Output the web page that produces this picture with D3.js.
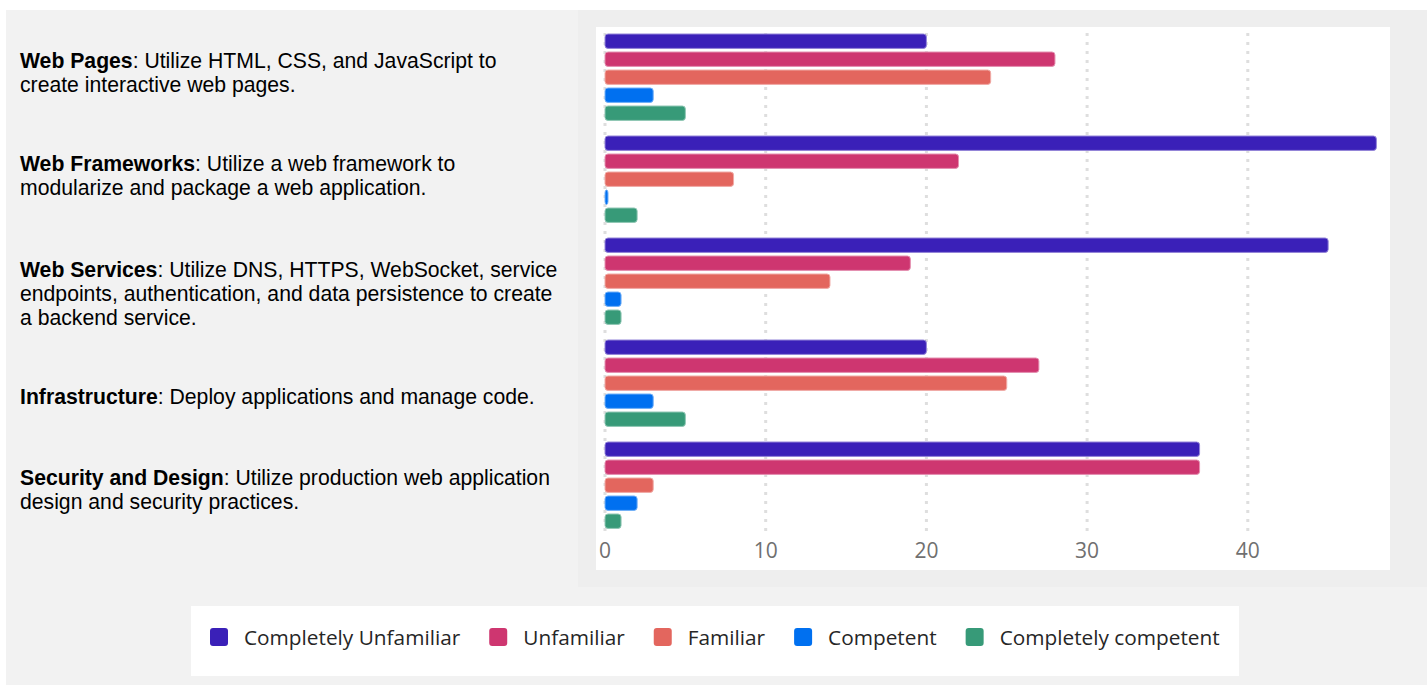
<!DOCTYPE html>
<html>
<head>
<meta charset="utf-8">
<script src="https://cdn.jsdelivr.net/npm/d3@7"></script>
<style>
    body { margin: 0; background: #fff; }
    svg { display: block; }
</style>
</head>
<body>
<svg width="1427" height="685"></svg>
<script>
let categories = ["Web Pages", "Web Frameworks", "Web Services", "Infrastructure", "Security and Design"];
let descriptions = [
    ["Utilize HTML, CSS, and JavaScript to", "create interactive web pages."],
    ["Utilize a web framework to", "modularize and package a web application."],
    ["Utilize DNS, HTTPS, WebSocket, service", "endpoints, authentication, and data persistence to create", "a backend service."],
    ["Deploy applications and manage code."],
    ["Utilize production web application", "design and security practices."]
];
let seriesNames = ["Completely Unfamiliar", "Unfamiliar", "Familiar", "Competent", "Completely competent"];
let seriesColors = ["#3a20b8", "#ce3670", "#e3665e", "#0070f0", "#379a78"];
// one array per series, in category order
let completelyUnfamiliar = [20, 48, 45, 20, 37];
let unfamiliar = [28, 22, 19, 27, 37];
let familiar = [24, 8, 14, 25, 3];
let competent = [3, 0, 1, 3, 2];
let completelyCompetent = [5, 2, 1, 5, 1];
let xTicks = [0, 10, 20, 30, 40];

function onload() {
    let svg = d3.select("svg");
    let values = [completelyUnfamiliar, unfamiliar, familiar, competent, completelyCompetent];

    // panels
    svg.append("rect").attr("x", 6).attr("y", 10).attr("width", 1421).attr("height", 675).attr("fill", "#f2f2f2");
    svg.append("rect").attr("x", 578).attr("y", 10).attr("width", 849).attr("height", 577).attr("fill", "#eeeeee");
    svg.append("rect").attr("x", 596).attr("y", 27).attr("width", 794).attr("height", 543).attr("fill", "#ffffff");
    svg.append("rect").attr("x", 191).attr("y", 606).attr("width", 1048).attr("height", 70).attr("fill", "#ffffff");

    let x = d3.scaleLinear().domain([0, 48]).range([605, 605 + 48 * 16.07]);
    let y = d3.scaleBand().domain(categories).range([34, 34 + 5 * 102]);
    let ySeries = d3.scaleBand().domain(seriesNames).range([0, 86.4]).paddingInner(0.2);

    svg.append("g").selectAll("line").data(xTicks).enter()
        .append("line")
        .attr("x1", d => x(d)).attr("x2", d => x(d))
        .attr("y1", 33).attr("y2", 536)
        .style("stroke", "#dedede")
        .style("stroke-width", 3)
        .style("stroke-dasharray", "3,6");

    svg.append("g").selectAll("text").data(xTicks).enter()
        .append("text")
        .attr("x", d => x(d))
        .attr("y", 558)
        .attr("text-anchor", "middle")
        .style("font-family", "'Open Sans', sans-serif")
        .style("font-size", "21px")
        .style("fill", "#707070")
        .text(d => d);

    let groups = svg.append("g").selectAll("g").data(categories).enter()
        .append("g")
        .attr("transform", d => `translate(0,${y(d)})`);

    groups.selectAll("rect")
        .data((cat, i) => seriesNames.map((s, k) => ({series: s, value: values[k][i], color: seriesColors[k]})))
        .enter()
        .append("rect")
        .attr("x", x(0))
        .attr("y", d => ySeries(d.series))
        .attr("width", d => Math.max(x(d.value) - x(0), 3))
        .attr("height", ySeries.bandwidth())
        .attr("rx", 3)
        .style("fill", d => d.color)
        .style("stroke", d => d3.interpolateRgb(d.color, "#fff")(0.45))
        .style("stroke-width", 1);

    // left-hand descriptions
    let labelTops = [68, 171, 277, 404, 485];
    categories.forEach((cat, i) => {
        let block = svg.append("text")
            .attr("x", 20)
            .attr("y", labelTops[i])
            .style("font-family", "'Liberation Sans', Arial, sans-serif")
            .style("font-size", "21.2px")
            .style("fill", "#000");
        descriptions[i].forEach((line, j) => {
            if (j === 0) {
                block.append("tspan").style("font-weight", "bold").text(cat);
                block.append("tspan").text(": " + line);
            } else {
                block.append("tspan").attr("x", 20).attr("dy", 24).text(line);
            }
        });
    });

    // legend
    let lx = 210;
    seriesNames.forEach((name, k) => {
        svg.append("rect")
            .attr("x", lx).attr("y", 628)
            .attr("width", 18).attr("height", 18)
            .attr("rx", 3)
            .style("fill", seriesColors[k]);
        let t = svg.append("text")
            .attr("x", lx + 34).attr("y", 645)
            .style("font-family", "'Open Sans', sans-serif")
            .style("font-size", "20.8px")
            .style("fill", "#262626")
            .text(name);
        lx += 34 + t.node().getComputedTextLength() + 29;
    });
}

onload();
</script>
</body>
</html>
